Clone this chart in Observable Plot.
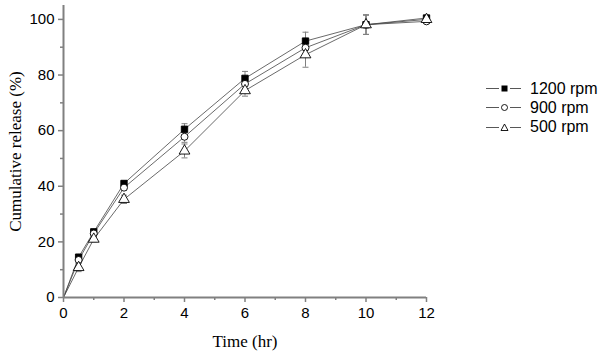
<!DOCTYPE html>
<html>
<head>
<meta charset="utf-8">
<script src="https://cdn.jsdelivr.net/npm/d3@7"></script>
<script src="https://cdn.jsdelivr.net/npm/@observablehq/plot@0.6"></script>
<style>
  html, body { margin: 0; padding: 0; background: #fff; }
  #wrap { position: relative; width: 600px; height: 353px; }
  #legend { position: absolute; left: 486px; top: 79px; font-family: "Liberation Sans", Arial, sans-serif; font-size: 16px; color: #000; }
  .row { display: flex; align-items: center; height: 19.3px; }
  .row svg { margin-right: 5px; }
</style>
</head>
<body>
<div id="wrap"><div id="legend"></div></div>
<script>
const times = [0, 0.5, 1, 2, 4, 6, 8, 10, 12];
const rpm1200 = [0, 14.5, 23.6, 41, 60.5, 78.8, 92.2, 98.1, 100.5];
const rpm900  = [0, 13.5, 23, 39.5, 57.8, 76.8, 89.8, 98.1, 99.3];
const rpm500  = [0, 10.8, 21, 35.3, 52.7, 74.4, 87.3, 98.1, 100];
const err1200 = [0, 1, 1, 1, 2, 2.5, 3.2, 3.5, 0.8];
const err900  = [0, 1, 1, 1, 2, 2, 2.5, 3.5, 0.8];
const err500  = [0, 1.5, 1, 1.5, 2.5, 2, 4.5, 3.5, 0.8];
const seriesNames = ["1200 rpm", "900 rpm", "500 rpm"];
const xTicks = [0, 2, 4, 6, 8, 10, 12];
const xMinor = [1, 3, 5, 7, 9, 11];
const yTicks = [0, 20, 40, 60, 80, 100];
const yMinor = [10, 30, 50, 70, 90];

const seriesVals = [rpm1200, rpm900, rpm500];
const seriesErr = [err1200, err900, err500];
const rows = [];
seriesNames.forEach((s, k) => times.forEach((t, i) => rows.push({series: s, t, v: seriesVals[k][i], e: seriesErr[k][i]})));

const capSymbol = { draw(ctx) { ctx.moveTo(-3, 0); ctx.lineTo(3, 0); } };
const axisCol = "#808080";
const lineCol = "#444";
const errRows = rows.filter(d => d.e > 0);

const markStyle = {
  "1200 rpm": {symbol: "square", fill: "#000", r: 3.6},
  "900 rpm": {symbol: "circle", fill: "#fff", r: 3.5},
  "500 rpm": {symbol: "triangle", fill: "#fff", r: 4}
};
const serif = "'Liberation Serif', 'Times New Roman', serif";

const chart = Plot.plot({
  width: 600, height: 353,
  marginLeft: 63, marginRight: 174, marginTop: 5, marginBottom: 56,
  style: {fontFamily: "'Liberation Sans', Arial, sans-serif", fontSize: "15px", color: "#000", background: "#fff"},
  x: {domain: [0, 12]},
  y: {domain: [0, 105]},
  marks: [
    Plot.ruleX(errRows, {x: "t", y1: d => d.v - d.e, y2: d => d.v + d.e, stroke: axisCol, strokeWidth: 1}),
    Plot.dot(errRows, {x: "t", y: d => d.v + d.e, symbol: capSymbol, r: 3, stroke: axisCol, strokeWidth: 1, fill: "none"}),
    Plot.dot(errRows, {x: "t", y: d => d.v - d.e, symbol: capSymbol, r: 3, stroke: axisCol, strokeWidth: 1, fill: "none"}),
    Plot.line(rows, {x: "t", y: "v", z: "series", stroke: lineCol, strokeWidth: 0.8}),
    ...seriesNames.map(s => Plot.dot(rows.filter(d => d.series === s && d.t > 0), {x: "t", y: "v", symbol: markStyle[s].symbol, r: markStyle[s].r, fill: markStyle[s].fill, stroke: "#000", strokeWidth: 0.9})),
    Plot.ruleY([0], {stroke: axisCol, strokeWidth: 2}),
    Plot.ruleX([0], {stroke: axisCol, strokeWidth: 2}),
    Plot.axisX({ticks: xTicks, tickSize: 5, tickPadding: 5, stroke: axisCol, strokeWidth: 1.5, label: null, fontSize: 15}),
    Plot.axisX({ticks: xMinor, tickSize: 3, stroke: axisCol, strokeWidth: 1.5, text: null, label: null}),
    Plot.axisY({ticks: yTicks, tickSize: 5, tickPadding: 4, stroke: axisCol, strokeWidth: 1.5, label: null, fontSize: 15}),
    Plot.axisY({ticks: yMinor, tickSize: 3, stroke: axisCol, strokeWidth: 1.5, text: null, label: null}),
    Plot.text(["Time (hr)"], {frameAnchor: "bottom", lineAnchor: "middle", textAnchor: "middle", dy: 44, fontFamily: serif, fontSize: 17, fontWeight: "normal"}),
    Plot.text(["Cumulative release (%)"], {frameAnchor: "left", textAnchor: "middle", lineAnchor: "middle", dx: -48, rotate: -90, fontFamily: serif, fontSize: 17, fontWeight: "normal"})
  ]
});
document.getElementById("wrap").prepend(chart);
chart.style.position = "absolute"; chart.style.left = "0"; chart.style.top = "0";

const legend = document.getElementById("legend");
const shapes = {
  "1200 rpm": '<rect x="15.5" y="5.5" width="6" height="6" fill="#000"/>',
  "900 rpm": '<circle cx="18.5" cy="8.5" r="3" fill="#fff" stroke="#000" stroke-width="0.9"/>',
  "500 rpm": '<path d="M18.5,5 L22,11.5 L15,11.5 Z" fill="#fff" stroke="#000" stroke-width="0.9"/>'
};
seriesNames.forEach(s => {
  const row = document.createElement("div");
  row.className = "row";
  row.innerHTML = `<svg width="39" height="17"><line x1="0" y1="8.5" x2="13" y2="8.5" stroke="${lineCol}" stroke-width="0.9"/><line x1="24" y1="8.5" x2="35" y2="8.5" stroke="${lineCol}" stroke-width="0.9"/>${shapes[s]}</svg><span>${s}</span>`;
  legend.appendChild(row);
});
</script>
</body>
</html>
